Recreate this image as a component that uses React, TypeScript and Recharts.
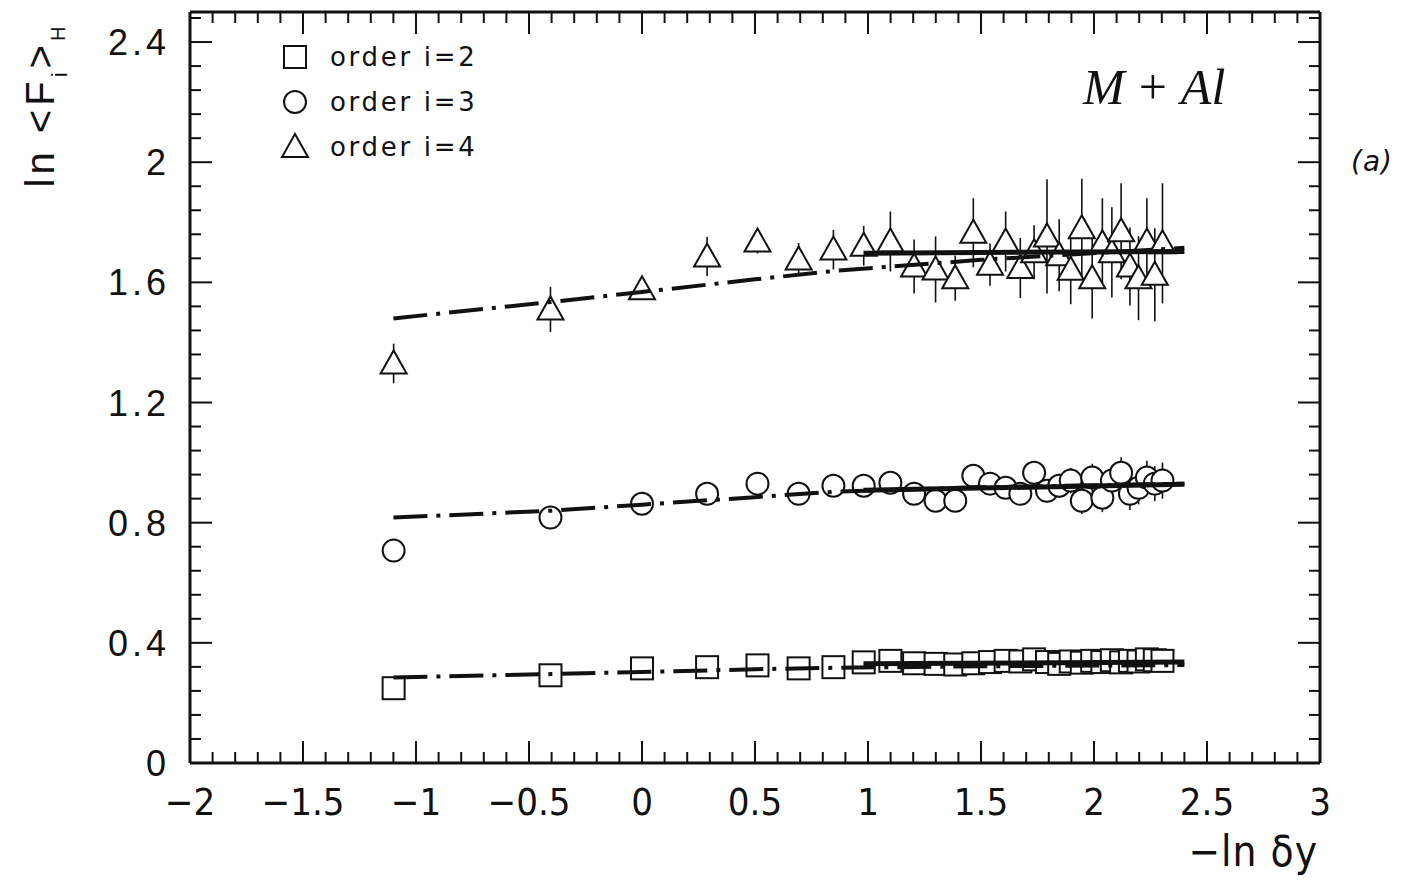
import React from 'react';
import { ComposedChart, Scatter, XAxis, YAxis, ErrorBar, Legend } from 'recharts';

const CHART_W = 1411;
const CHART_H = 882;

// -ln(dy) for the 30 rapidity bin sizes
const lnBins = [
  -1.099, -0.405, 0.0, 0.288, 0.511, 0.693, 0.847, 0.981, 1.099, 1.204,
  1.299, 1.386, 1.466, 1.54, 1.609, 1.674, 1.735, 1.792, 1.846, 1.897,
  1.946, 1.992, 2.037, 2.079, 2.12, 2.159, 2.197, 2.234, 2.269, 2.303,
];

// ln <F_i>_H, order i = 2
const order2Values = [
  0.249, 0.292, 0.315, 0.319, 0.325, 0.315, 0.319, 0.335, 0.34, 0.332,
  0.33, 0.328, 0.332, 0.336, 0.34, 0.338, 0.345, 0.336, 0.33, 0.338,
  0.334, 0.34, 0.336, 0.342, 0.335, 0.34, 0.338, 0.345, 0.342, 0.34,
];

// order i = 3
const order3Values = [
  0.707, 0.817, 0.863, 0.896, 0.93, 0.896, 0.923, 0.923, 0.933, 0.896,
  0.873, 0.873, 0.956, 0.93, 0.916, 0.896, 0.966, 0.906, 0.923, 0.94,
  0.873, 0.95, 0.883, 0.94, 0.966, 0.896, 0.916, 0.95, 0.93, 0.94,
];
const order3Errors = [
  0.01, 0.01, 0.01, 0.01, 0.012, 0.012, 0.014, 0.015, 0.016, 0.018,
  0.02, 0.022, 0.024, 0.026, 0.028, 0.03, 0.035, 0.038, 0.04, 0.042,
  0.044, 0.046, 0.048, 0.05, 0.052, 0.054, 0.055, 0.056, 0.058, 0.06,
];

// order i = 4
const order4Values = [
  1.33, 1.51, 1.577, 1.686, 1.736, 1.676, 1.709, 1.722, 1.736, 1.653,
  1.643, 1.614, 1.765, 1.659, 1.736, 1.648, 1.7, 1.753, 1.69, 1.642,
  1.78, 1.614, 1.73, 1.7, 1.77, 1.653, 1.614, 1.736, 1.625, 1.73,
];
const order4Errors = [
  0.066, 0.075, 0.02, 0.065, 0.04, 0.055, 0.066, 0.066, 0.1, 0.09,
  0.11, 0.075, 0.115, 0.07, 0.1, 0.1, 0.09, 0.19, 0.12, 0.115,
  0.165, 0.134, 0.15, 0.15, 0.16, 0.13, 0.14, 0.144, 0.155, 0.2,
];

// fits over the full range (dash-dot) and over the small bins (solid)
const fitAllX = [-1.1, -0.4, 0, 0.5, 0.85, 1.5, 2.4];
const fitAll2 = [0.285, 0.296, 0.303, 0.312, 0.317, 0.322, 0.326];
const fitAll3 = [0.817, 0.84, 0.86, 0.885, 0.903, 0.918, 0.93];
const fitAll4 = [1.48, 1.535, 1.568, 1.61, 1.638, 1.675, 1.715];
const fitHighX = [0.98, 2.4];
const fitHigh2 = [0.33, 0.336];
const fitHigh3 = [0.908, 0.928];
const fitHigh4 = [1.697, 1.703];

const legendLabels = ['order i=2', 'order i=3', 'order i=4'];
const xMajorTicks = [-2, -1.5, -1, -0.5, 0, 0.5, 1, 1.5, 2, 2.5, 3];
const yMajorTicks = [0, 0.4, 0.8, 1.2, 1.6, 2, 2.4];

const xTicks = Array.from({ length: 51 }, (_, i) => Math.round((-2 + i * 0.1) * 10) / 10);
const yTicks = Array.from({ length: 32 }, (_, i) => Math.round(i * 0.08 * 100) / 100);

const toPoints = (xs: number[], ys: number[], errs?: number[]) =>
  xs.map((x, i) => ({ x, y: ys[i], err: errs ? errs[i] : 0 }));

const data2 = toPoints(lnBins, order2Values);
const data3 = toPoints(lnBins, order3Values, order3Errors);
const data4 = toPoints(lnBins, order4Values, order4Errors);

const isMajor = (v: number, list: number[]) => list.some((m) => Math.abs(m - v) < 1e-6);
const fmt = (v: number) => (v < 0 ? '\u2212' + String(-v) : String(v));

const INK = '#111';

const SquareMark = (p: any) =>
  p.cx == null ? <g /> : (
    <rect x={p.cx - 11} y={p.cy - 11} width={22} height={22} fill="#fff" stroke={INK} strokeWidth={2} />
  );
const CircleMark = (p: any) =>
  p.cx == null ? <g /> : <circle cx={p.cx} cy={p.cy} r={11} fill="#fff" stroke={INK} strokeWidth={2} />;
const TriangleMark = (p: any) =>
  p.cx == null ? <g /> : (
    <polygon
      points={`${p.cx},${p.cy - 13} ${p.cx + 13},${p.cy + 10} ${p.cx - 13},${p.cy + 10}`}
      fill="#fff"
      stroke={INK}
      strokeWidth={2}
    />
  );
const NoMark = () => <g />;

const legendShapes = [SquareMark, CircleMark, TriangleMark];

const xLabelFont = "'Liberation Sans Narrow', 'DejaVu Sans Condensed', 'Liberation Sans', sans-serif";

const BottomTick = (p: any) => {
  const v = p.payload.value;
  const major = isMajor(v, xMajorTicks);
  return (
    <g>
      <line x1={p.x} x2={p.x} y1={p.y} y2={p.y - (major ? 22 : 11)} stroke={INK} strokeWidth={2} />
      {major && (
        <text x={p.x} y={p.y + 52} textAnchor="middle" fontFamily={xLabelFont} fontSize={38} fill={INK}>
          {fmt(v)}
        </text>
      )}
    </g>
  );
};

const TopTick = (p: any) => {
  const major = isMajor(p.payload.value, xMajorTicks);
  return <line x1={p.x} x2={p.x} y1={p.y} y2={p.y + (major ? 22 : 11)} stroke={INK} strokeWidth={2} />;
};

const LeftTick = (p: any) => {
  const v = p.payload.value;
  const major = isMajor(v, yMajorTicks);
  return (
    <g>
      <line x1={p.x} x2={p.x + (major ? 22 : 11)} y1={p.y} y2={p.y} stroke={INK} strokeWidth={2} />
      {major && (
        <text
          x={p.x - 20}
          y={p.y + 13}
          textAnchor="end"
          fontFamily="'Liberation Sans', Arial, sans-serif"
          fontSize={36}
          letterSpacing={4}
          fill={INK}
        >
          {fmt(v)}
        </text>
      )}
    </g>
  );
};

const RightTick = (p: any) => {
  const major = isMajor(p.payload.value, yMajorTicks);
  return <line x1={p.x} x2={p.x - (major ? 22 : 11)} y1={p.y} y2={p.y} stroke={INK} strokeWidth={2} />;
};

const LegendBox = () => (
  <svg width={260} height={140} style={{ display: 'block' }}>
    {legendLabels.map((label, i) => {
      const cy = 27 + i * 45;
      const Shape = legendShapes[i];
      return (
        <g key={label}>
          <Shape cx={25} cy={cy} />
          <text
            x={60}
            y={cy + 9}
            fontFamily="'DejaVu Sans', sans-serif"
            fontSize={26}
            letterSpacing={2.7}
            fill={INK}
          >
            {label}
          </text>
        </g>
      );
    })}
  </svg>
);

const dashDot = '34 9 4 9';
const axisStroke = { stroke: INK, strokeWidth: 3 };

export default function App() {
  return (
    <div style={{ position: 'absolute', left: 0, top: 0, background: '#fff' }}>
      <ComposedChart
        width={CHART_W}
        height={CHART_H}
        margin={{ top: 11, right: 90, bottom: 118, left: 189 }}
      >
        <XAxis
          dataKey="x"
          type="number"
          domain={[-2, 3]}
          allowDataOverflow
          ticks={xTicks}
          interval={0}
          height={1}
          tickSize={0}
          tickMargin={0}
          tickLine={false}
          tick={<BottomTick />}
          axisLine={axisStroke}
        />
        <XAxis
          xAxisId="top"
          orientation="top"
          dataKey="x"
          type="number"
          domain={[-2, 3]}
          allowDataOverflow
          ticks={xTicks}
          interval={0}
          height={1}
          tickSize={0}
          tickMargin={0}
          tickLine={false}
          tick={<TopTick />}
          axisLine={axisStroke}
        />
        <YAxis
          dataKey="y"
          type="number"
          domain={[0, 2.5]}
          allowDataOverflow
          ticks={yTicks}
          interval={0}
          width={1}
          tickSize={0}
          tickMargin={0}
          tickLine={false}
          tick={<LeftTick />}
          axisLine={axisStroke}
        />
        <YAxis
          yAxisId="right"
          orientation="right"
          dataKey="y"
          type="number"
          domain={[0, 2.5]}
          allowDataOverflow
          ticks={yTicks}
          interval={0}
          width={1}
          tickSize={0}
          tickMargin={0}
          tickLine={false}
          tick={<RightTick />}
          axisLine={axisStroke}
        />

        {/* error bars first, markers drawn over them */}
        <Scatter data={data4} shape={NoMark} isAnimationActive={false} legendType="none">
          <ErrorBar dataKey="err" direction="y" width={0} stroke={INK} strokeWidth={1.6} />
        </Scatter>
        <Scatter data={data3} shape={NoMark} isAnimationActive={false} legendType="none">
          <ErrorBar dataKey="err" direction="y" width={0} stroke={INK} strokeWidth={1.6} />
        </Scatter>
        <Scatter name="order i=4" data={data4} shape={TriangleMark} isAnimationActive={false} legendType="none" />
        <Scatter name="order i=3" data={data3} shape={CircleMark} isAnimationActive={false} legendType="none" />
        <Scatter name="order i=2" data={data2} shape={SquareMark} isAnimationActive={false} legendType="none" />

        {[
          [fitAll2, fitHigh2],
          [fitAll3, fitHigh3],
          [fitAll4, fitHigh4],
        ].map(([all, high], i) => (
          <React.Fragment key={i}>
            <Scatter
              data={toPoints(fitAllX, all)}
              shape={NoMark}
              fill="none"
              line={{ stroke: INK, strokeWidth: 4, strokeDasharray: dashDot }}
              lineType="joint"
              legendType="none"
              isAnimationActive={false}
            />
            <Scatter
              data={toPoints(fitHighX, high)}
              shape={NoMark}
              fill="none"
              line={{ stroke: INK, strokeWidth: 5 }}
              lineType="joint"
              legendType="none"
              isAnimationActive={false}
            />
          </React.Fragment>
        ))}

        <Legend
          layout="vertical"
          align="center"
          verticalAlign="middle"
          content={LegendBox}
          wrapperStyle={{ left: 270, top: 30, width: 260, height: 140 }}
        />

        <text x={1083} y={104} fontFamily="'Liberation Serif', 'DejaVu Serif', serif" fontSize={50} fill={INK}>
          <tspan fontStyle="italic">M</tspan>
          <tspan dx={14}>+</tspan>
          <tspan dx={14} fontStyle="italic">Al</tspan>
        </text>
        <text
          x={1351}
          y={171}
          fontFamily="'DejaVu Sans', sans-serif"
          fontStyle="italic"
          fontSize={28}
          letterSpacing={1}
          fill={INK}
        >
          (a)
        </text>
        <text x={1318} y={866} textAnchor="end" fontFamily={xLabelFont} fontSize={42} letterSpacing={1} fill={INK}>
          {'\u2212ln \u03b4y'}
        </text>
        <text
          transform="rotate(-90)"
          x={-105}
          y={54}
          textAnchor="middle"
          fontFamily="'Liberation Sans', Arial, sans-serif"
          fontSize={40}
          letterSpacing={4}
          fill={INK}
        >
          {'ln <F'}
          <tspan baselineShift="sub" fontSize={22}>i</tspan>
          <tspan>{'>'}</tspan>
          <tspan baselineShift="sub" fontSize={20}>H</tspan>
        </text>
      </ComposedChart>
    </div>
  );
}
